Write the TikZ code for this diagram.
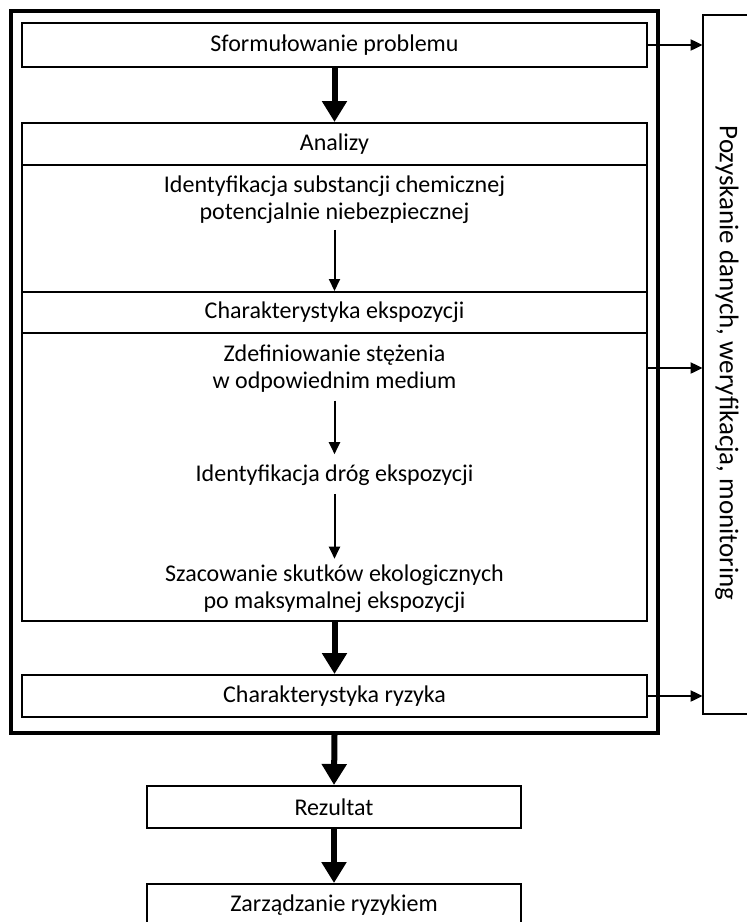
\documentclass[tikz,border=0pt]{standalone}
\usepackage{fontspec}
\setmainfont{Carlito}
\usetikzlibrary{arrows.meta}
\begin{document}
\begin{tikzpicture}[x=0.5pt,y=-0.5pt,
  every node/.style={font=\fontsize{12}{13.5}\selectfont, inner sep=0pt},
  stage/.style={draw, line width=1pt, minimum width=312.5pt},
  low/.style={draw, line width=1pt, minimum width=187pt, minimum height=21pt},
  label/.style={align=center},
  bigarrow/.style={line width=3pt, -{Triangle[width=12pt,length=10.5pt]}},
  smallarrow/.style={line width=1pt, -{Triangle[width=5.5pt,length=6pt]}}]
\useasboundingbox (0,0) rectangle (746,922);

% main frame around the analysis stages
\node[draw, line width=2pt, minimum width=323.5pt, minimum height=361pt] (frame) at (334.5,372) {};

% stages inside the frame
\node[stage, minimum height=22pt] (form) at (334.5,45) {Sformułowanie problemu};
\node[stage, minimum height=21pt] (ana) at (334.5,144) {Analizy};
\node[stage, minimum height=63.5pt] (ident) at (334.5,228.5) {};
\node[stage, minimum height=20.5pt] (charexp) at (334.5,312.5) {Charakterystyka ekspozycji};
\node[stage, minimum height=144pt] (expo) at (334.5,477) {};
\node[stage, minimum height=21pt] (ryz) at (334.5,696) {Charakterystyka ryzyka};

% texts of the detailed steps
\node[label] (t1) at (334.5,199.5) {Identyfikacja substancji chemicznej\\potencjalnie niebezpiecznej};
\node[label] (t2) at (334.5,368.5) {Zdefiniowanie stężenia\\w odpowiednim medium};
\node[label] (t3) at (334.5,475) {Identyfikacja dróg ekspozycji};
\node[label] (t4) at (334.5,589) {Szacowanie skutków ekologicznych\\po maksymalnej ekspozycji};

% results below the frame
\node[low] (rez) at (334,807) {Rezultat};
\node[low] (zarz) at (334,905) {Zarządzanie ryzykiem};

% side bar: data acquisition, open on the right
\node[minimum width=23.5pt, minimum height=349.5pt] (side) at (726.5,364.5) {};
\node[rotate=-90, font=\fontsize{13.5}{15}\selectfont] (sidetext) at (727,363) {Pozyskanie danych, weryfikacja, monitoring};
\draw[line width=1pt] (side.north east) -- (side.north west) -- (side.south west) -- (side.south east);

% flow arrows
\draw[bigarrow] (form.south) -- (ana.north);
\draw[smallarrow, shorten <=3pt] (t1.south) -- (charexp.north);
\draw[smallarrow, shorten <=4pt, shorten >=5pt] (t2.south) -- (t3.north);
\draw[smallarrow, shorten <=4pt, shorten >=3pt] (t3.south) -- (t4.north);
\draw[bigarrow] (expo.south) -- (ryz.north);
\draw[bigarrow] (frame.south) -- (rez.north);
\draw[bigarrow] (rez.south) -- (zarz.north);

% feeds into the side bar
\coordinate (mid) at (647,368);
\draw[smallarrow] (form.east) -- (form.east -| side.west);
\draw[smallarrow] (mid) -- (mid -| side.west);
\draw[smallarrow] (ryz.east) -- (ryz.east -| side.west);
\end{tikzpicture}
\end{document}
